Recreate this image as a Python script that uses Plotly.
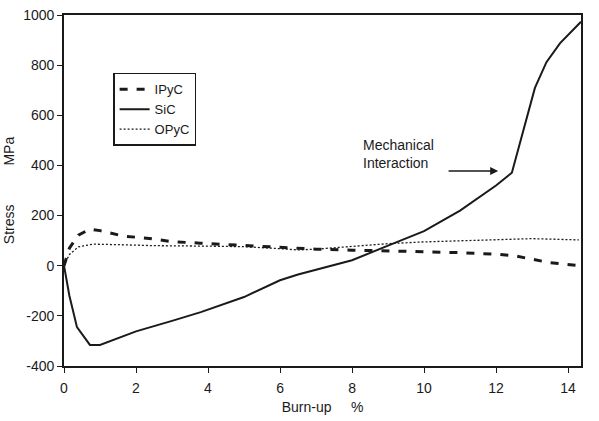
import plotly.graph_objects as go

# SiC layer stress
sic_x = [0, 0.15, 0.36, 0.72, 1.0, 1.5, 2.0, 3.0, 3.8, 5.0, 6.0, 6.5, 7.0, 8.0, 9.0, 10.0, 11.0, 12.0, 12.44, 12.8, 13.08, 13.4, 13.78, 14.36]
sic_y = [0, -120, -245, -316, -316, -290, -262, -220, -185, -125, -58, -35, -15, 22, 80, 138, 220, 320, 371, 560, 709, 812, 888, 973]

# IPyC layer stress
ipyc_x = [0, 0.15, 0.4, 0.72, 1.0, 1.65, 2.3, 3.0, 3.78, 5.0, 6.0, 7.0, 8.0, 9.0, 10.0, 11.0, 12.0, 12.5, 13.0, 13.5, 14.3]
ipyc_y = [0, 70, 122, 146, 140, 118, 110, 96, 90, 80, 72, 66, 62, 60, 56, 52, 46, 40, 25, 12, 0]

# OPyC layer stress
opyc_x = [0, 0.15, 0.4, 0.8, 1.5, 2.5, 4.0, 5.0, 6.0, 6.5, 7.0, 8.0, 9.0, 10.0, 11.0, 12.0, 13.0, 14.3]
opyc_y = [0, 45, 75, 86, 84, 80, 78, 76, 68, 63, 66, 78, 88, 95, 100, 104, 108, 103]

x_ticks = [0, 2, 4, 6, 8, 10, 12, 14]
y_ticks = [-400, -200, 0, 200, 400, 600, 800, 1000]
y_tick_text = ["-400", "-200", "0", "200", "400", "600", "800", "1000"]

ink = "#1a1a1a"
font_fam = "Liberation Sans, Arial"
fig = go.Figure()
fig.add_trace(go.Scatter(x=ipyc_x, y=ipyc_y, mode="lines", name="IPyC",
                         line=dict(color=ink, width=3, dash="8px,9px")))
fig.add_trace(go.Scatter(x=sic_x, y=sic_y, mode="lines", name="SiC",
                         line=dict(color=ink, width=2)))
fig.add_trace(go.Scatter(x=opyc_x, y=opyc_y, mode="lines", name="OPyC",
                         line=dict(color=ink, width=1.3, dash="2px,2px")))

fig.add_annotation(x=12.06, y=378, ax=10.64, ay=378, axref="x", ayref="y",
                   xref="x", yref="y", text="", showarrow=True,
                   arrowhead=2, arrowsize=1, arrowwidth=1.6, arrowcolor=ink, standoff=0)
fig.add_annotation(x=8.25, y=444, xref="x", yref="y", text="Mechanical<br>Interaction",
                   showarrow=False, xanchor="left", align="left",
                   font=dict(family=font_fam, size=14, color=ink))

axis_common = dict(showline=True, linecolor=ink, linewidth=1.6, mirror=True,
                   ticks="outside", ticklen=5, tickcolor=ink, showgrid=False,
                   zeroline=False, automargin=False,
                   tickfont=dict(family=font_fam, size=14, color=ink))

fig.update_layout(
    width=599, height=421,
    margin=dict(l=64, r=18, t=15, b=55),
    plot_bgcolor="white", paper_bgcolor="white",
    showlegend=True,
    legend=dict(x=0.095, y=0.835, xanchor="left", yanchor="top",
                bordercolor=ink, borderwidth=1.5, bgcolor="white",
                font=dict(family=font_fam, size=13, color=ink),
                itemwidth=30, tracegroupgap=0),
    xaxis=dict(range=[0, 14.36], tickvals=x_ticks, ticklabelstandoff=3,
               title=dict(text="Burn-up     %", standoff=8,
                          font=dict(family=font_fam, size=14, color=ink)),
               **axis_common),
    yaxis=dict(range=[-400, 1000], tickvals=y_ticks, ticktext=y_tick_text,
               title=dict(text="Stress          MPa", standoff=5,
                          font=dict(family=font_fam, size=14, color=ink)),
               **axis_common),
)

fig.write_html("out.html")
